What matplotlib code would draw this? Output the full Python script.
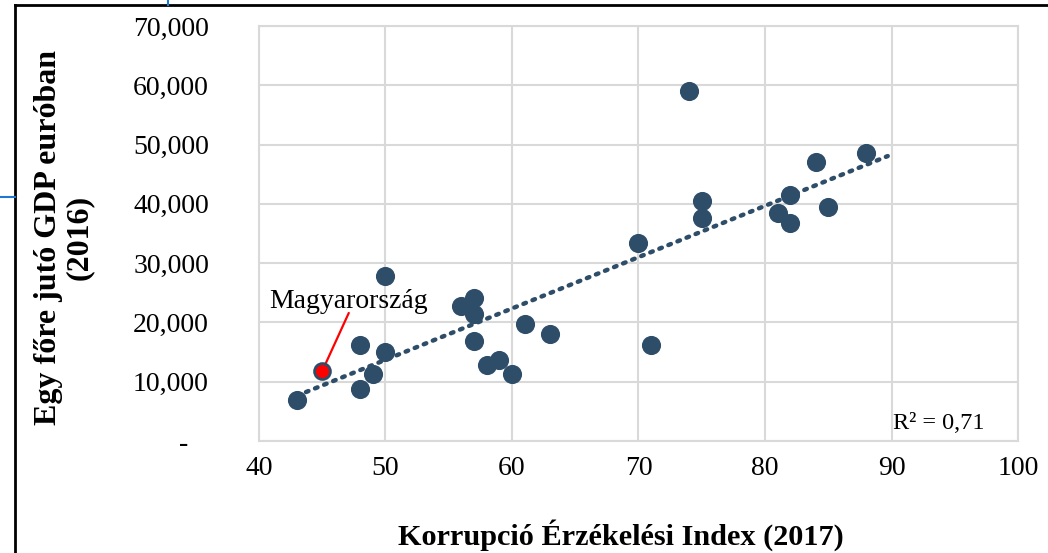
import numpy as np
import matplotlib.pyplot as plt
from matplotlib.lines import Line2D

# data
cpi = [43, 48, 48, 49, 50, 50, 56, 57, 57, 57, 58, 59, 60, 61, 63,
       70, 71, 74, 75, 75, 81, 82, 82, 84, 85, 88]
gdp = [6900, 16200, 8800, 11300, 15000, 27800, 22800, 24100, 21400, 16900,
       12800, 13700, 11300, 19700, 18000, 33400, 16200, 59000, 40500, 37600,
       38400, 41500, 36800, 47000, 39500, 48600]
hu_cpi = 45
hu_gdp = 11800
r2_text = "R² = 0,71"

yticks = [0, 10000, 20000, 30000, 40000, 50000, 60000, 70000]
ylabels = ["-   ", "10,000", "20,000", "30,000", "40,000", "50,000", "60,000", "70,000"]
xticks = [40, 50, 60, 70, 80, 90, 100]

plt.rcParams['font.family'] = ['Liberation Serif', 'DejaVu Serif']

fig = plt.figure(figsize=(10.48, 5.53), dpi=100)
ax = fig.add_axes([0.2471, 0.2025, 0.7243, 0.7505])

dot = '#2e4d69'
allx = np.array(cpi + [hu_cpi])
ally = np.array(gdp + [hu_gdp])
m, b = np.polyfit(allx, ally, 1)
tx = np.array([43, 89.7])
ax.plot(tx, m * tx + b, linestyle=(0, (0.6, 1.6)), color=dot, linewidth=3.2,
        dash_capstyle='round', zorder=2)

ax.scatter(cpi, gdp, s=190, color=dot, zorder=3, linewidths=0)
ax.scatter([hu_cpi], [hu_gdp], s=130, color='#ff0000', edgecolors=dot,
           linewidths=2, zorder=4)

# label for Hungary with a red leader line
ax.text(47.1, 23600, "Magyarország", ha='center', va='center', fontsize=20)
ax.annotate("", xy=(hu_cpi, hu_gdp), xytext=(47.1, 21600),
            arrowprops=dict(arrowstyle='-', color='#ff0000', lw=1.6,
                            shrinkA=0, shrinkB=5))

ax.text(90.1, 2900, r2_text, fontsize=17.5, ha='left', va='center')

ax.set_xlim(40, 100)
ax.set_ylim(0, 70000)
ax.set_xticks(xticks)
ax.set_yticks(yticks)
ax.set_yticklabels(ylabels)
ax.tick_params(axis='both', length=0, labelsize=20)
ax.tick_params(axis='y', pad=36)
ax.tick_params(axis='x', pad=11)
ax.grid(True, color='#d9d9d9', linewidth=1.5)
ax.set_axisbelow(True)
for s in ax.spines.values():
    s.set_color('#d9d9d9')
    s.set_linewidth(1.5)

fig.text(0.061, 0.57, "Egy főre jutó GDP euróban\n(2016)", rotation=90,
         ha='center', va='center', fontsize=23, fontweight='bold',
         linespacing=1.12)
fig.text(0.592, 0.033, "Korrupció Érzékelési Index (2017)", ha='center',
         va='center', fontsize=21.8, fontweight='bold')

# outer frame lines of the page
fig.add_artist(Line2D([15/1048, 15/1048], [0, 1 - 5/553], color='black',
                      linewidth=2, transform=fig.transFigure))
fig.add_artist(Line2D([15/1048, 1], [1 - 5/553, 1 - 5/553], color='black',
                      linewidth=2, transform=fig.transFigure))
fig.add_artist(Line2D([168/1048, 168/1048], [1, 1 - 5/553], color='#1f77d0',
                      linewidth=1.5, transform=fig.transFigure))
fig.add_artist(Line2D([0, 15/1048], [1 - 197/553, 1 - 197/553], color='#1f77d0',
                      linewidth=1.5, transform=fig.transFigure))

plt.savefig("out.png", dpi=100)
